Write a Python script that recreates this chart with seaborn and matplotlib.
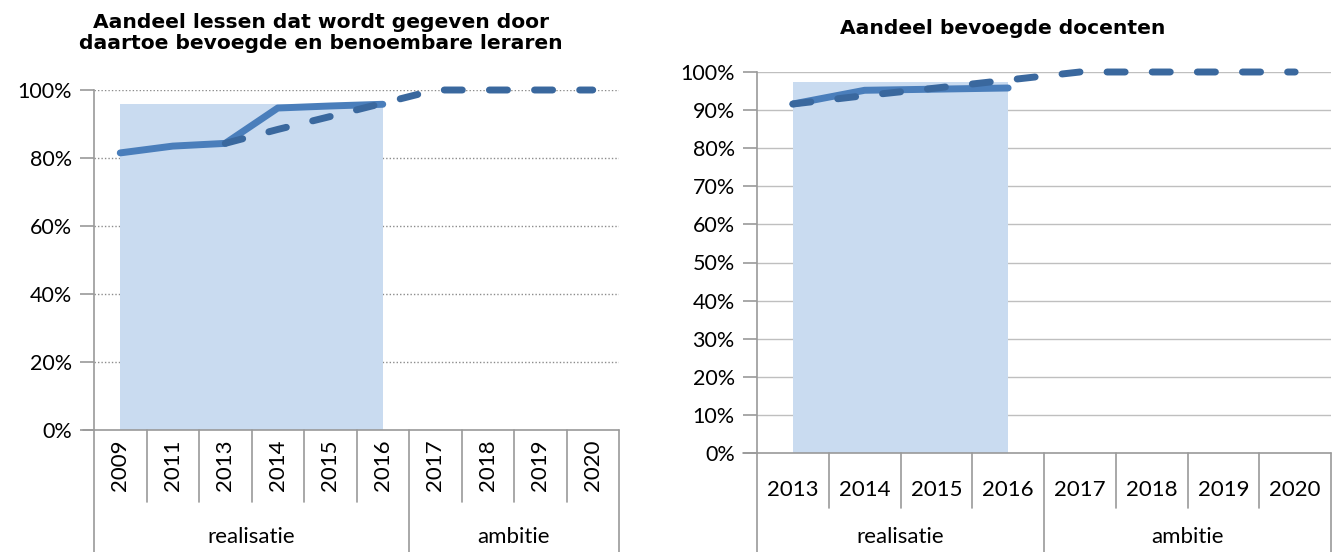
import matplotlib
matplotlib.use("Agg")
import matplotlib.pyplot as plt
import matplotlib.transforms as mtransforms
import seaborn as sns
import pandas as pd
import numpy as np

# ---------------- data ----------------
years_left = ["2009", "2011", "2013", "2014", "2015", "2016", "2017", "2018", "2019", "2020"]
groups_left = ["realisatie"] * 6 + ["ambitie"] * 4
realisatie_left = [81.5, 83.5, 84.3, 94.7, 95.3, 95.8, None, None, None, None]
ambitie_left = [None, None, 84.3, 88.4, 92.2, 96.1, 100, 100, 100, 100]
band_left = [96.0, 96.0, 96.0, 96.0, 96.0, 96.0, None, None, None, None]

years_right = ["2013", "2014", "2015", "2016", "2017", "2018", "2019", "2020"]
groups_right = ["realisatie"] * 4 + ["ambitie"] * 4
realisatie_right = [91.6, 95.2, 95.5, 95.8, None, None, None, None]
ambitie_right = [91.6, 93.8, 95.8, 97.9, 100, 100, 100, 100]
band_right = [97.5, 97.5, 97.5, 97.5, None, None, None, None]

title_left = "Aandeel lessen dat wordt gegeven door\ndaartoe bevoegde en benoembare leraren"
title_right = "Aandeel bevoegde docenten"

# ---------------- style ----------------
sns.set_theme(style="white")
plt.rcParams["font.family"] = ["Lato", "DejaVu Sans"]
plt.rcParams["text.color"] = "black"

C_SOLID = "#4a7ebb"
C_DASH = "#3a689e"
C_AREA = "#c9dbf0"
C_AXIS = "#9a9a9a"
C_GRID = "#bfbfbf"

W, H = 1333, 552
fig = plt.figure(figsize=(W / 100, H / 100), dpi=100)


def px_axes(x0, x1, ytop, ybot):
    return fig.add_axes([x0 / W, 1 - ybot / H, (x1 - x0) / W, (ybot - ytop) / H])


def draw(ax, years, groups, real, amb, band, yticks, grid_dotted, rot, year_y, sep_y):
    n = len(years)
    idx = np.arange(n)
    df = pd.DataFrame({"pos": idx, "real": real, "amb": amb, "band": band})
    # area
    b = df.dropna(subset=["band"])
    ax.fill_between(b["pos"], 0, b["band"] / 100, color=C_AREA, lw=0, zorder=1)
    # gridlines
    for t in yticks[1:]:
        ax.axhline(t / 100, color=C_GRID if not grid_dotted else "#8c8c8c",
                   lw=1.0, ls=(0, (1, 1.5)) if grid_dotted else "-", zorder=0.5)
    r = df.dropna(subset=["real"])
    sns.lineplot(x=r["pos"], y=r["real"] / 100, ax=ax, color=C_SOLID, lw=5,
                 solid_capstyle="round", solid_joinstyle="round", zorder=3, clip_on=False)
    a = df.dropna(subset=["amb"])
    sns.lineplot(x=a["pos"], y=a["amb"] / 100, ax=ax, color=C_DASH, lw=5,
                 dashes=False, zorder=4, clip_on=False)
    ln = ax.lines[-1]
    ln.set_dashes((2.6, 3.9))
    ln.set_dash_capstyle("round")

    ax.set_xlim(-0.5, n - 0.5)
    ax.set_ylim(0, 1)
    ax.set_yticks([t / 100 for t in yticks])
    ax.set_yticklabels([f"{t}%" for t in yticks], fontsize=15.5, color="#000000")
    ax.tick_params(axis="y", length=10, width=1.2, color=C_AXIS, pad=6, left=True)
    ax.set_xticks([])
    ax.set_xlabel("")
    ax.set_ylabel("")
    for s in ["top", "right", "bottom"]:
        ax.spines[s].set_visible(False)
    ax.spines["left"].set_color(C_AXIS)
    ax.spines["left"].set_linewidth(1.2)

    tr = mtransforms.blended_transform_factory(ax.transData, fig.transFigure)
    y0 = ax.get_position().y0
    # x axis baseline
    ax.plot([-0.5 - 0.2, n - 0.5], [y0, y0], transform=tr, color=C_AXIS, lw=1.2, clip_on=False)
    # year labels
    for i, yr in enumerate(years):
        ax.text(i, 1 - year_y / H, yr, transform=tr, ha="center", va="center",
                rotation=rot, fontsize=16, color="#000000")
    # separators
    bounds = [g for g in range(1, n) if groups[g] == groups[g - 1]]
    for g in bounds:
        ax.plot([g - 0.5, g - 0.5], [y0, 1 - sep_y / H], transform=tr, color=C_AXIS,
                lw=1.2, clip_on=False)
    gb = [0] + [g for g in range(1, n) if groups[g] != groups[g - 1]] + [n]
    for g in gb:
        ax.plot([g - 0.5, g - 0.5], [y0, 0], transform=tr, color=C_AXIS, lw=1.2, clip_on=False)
    for k in range(len(gb) - 1):
        c = (gb[k] + gb[k + 1] - 1) / 2
        ax.text(c, 1 - 537 / H, groups[gb[k]], transform=tr, ha="center", va="center",
                fontsize=16, color="#000000")


axL = px_axes(94, 619, 90, 430)
draw(axL, years_left, groups_left, realisatie_left, ambitie_left, band_left,
     [0, 20, 40, 60, 80, 100], True, 90, 465, 502)

axR = px_axes(757, 1331, 72, 453)
draw(axR, years_right, groups_right, realisatie_right, ambitie_right, band_right,
     list(range(0, 101, 10)), False, 0, 490, 508)

fig.text(321 / W, 1 - 33 / H, title_left, ha="center", va="center", fontsize=14.6,
         fontweight="bold", family="DejaVu Sans", linespacing=1.15, color="black")
fig.text(1003 / W, 1 - 28 / H, title_right, ha="center", va="center", fontsize=14.6,
         fontweight="bold", family="DejaVu Sans", color="black")

fig.savefig("out.png", dpi=100)
